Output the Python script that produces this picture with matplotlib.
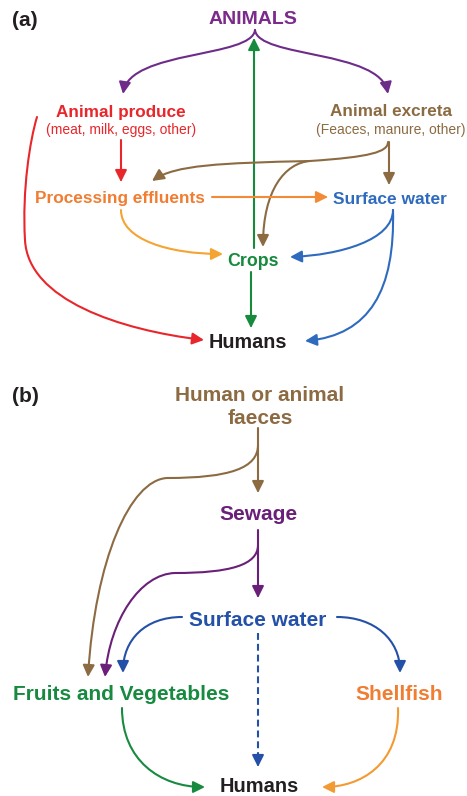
import matplotlib
matplotlib.use("Agg")
import matplotlib.pyplot as plt
from matplotlib.patches import FancyArrowPatch
from matplotlib.path import Path

plt.rcParams['font.family'] = ['Liberation Sans', 'DejaVu Sans']

# panel (a): nodes and links
a_nodes = ["ANIMALS", "Animal produce", "Animal excreta", "Processing effluents",
           "Surface water", "Crops", "Humans"]
a_notes = {"Animal produce": "(meat, milk, eggs, other)",
           "Animal excreta": "(Feaces, manure, other)"}
a_links = [("ANIMALS", "Animal produce"), ("ANIMALS", "Animal excreta"),
           ("Crops", "ANIMALS"), ("Animal produce", "Processing effluents"),
           ("Animal produce", "Humans"), ("Animal excreta", "Surface water"),
           ("Animal excreta", "Processing effluents"), ("Animal excreta", "Crops"),
           ("Processing effluents", "Surface water"), ("Processing effluents", "Crops"),
           ("Surface water", "Crops"), ("Surface water", "Humans"), ("Crops", "Humans")]

# panel (b): nodes and links
b_nodes = ["Human or animal\nfaeces", "Sewage", "Surface water",
           "Fruits and Vegetables", "Shellfish", "Humans"]
b_links = [("Human or animal\nfaeces", "Sewage"),
           ("Human or animal\nfaeces", "Fruits and Vegetables"),
           ("Sewage", "Surface water"), ("Sewage", "Fruits and Vegetables"),
           ("Surface water", "Fruits and Vegetables"), ("Surface water", "Shellfish"),
           ("Surface water", "Humans"), ("Fruits and Vegetables", "Humans"),
           ("Shellfish", "Humans")]
b_dashed = [("Surface water", "Humans")]

# ---- layout (pixel coordinates) ----
a_pos = {"ANIMALS": (253, 20), "Animal produce": (121, 112), "Animal excreta": (391, 112),
         "Processing effluents": (120, 199), "Surface water": (390, 199),
         "Crops": (253, 261), "Humans": (248, 342)}
a_size = {"ANIMALS": 14, "Humans": 14.2, "Crops": 12.8, "Surface water": 12.5,
          "Processing effluents": 12.4, "Animal produce": 12.3, "Animal excreta": 12.3}
a_col = {"ANIMALS": "#7a2b8b", "Animal produce": "#e8262b", "Animal excreta": "#8c6b43",
         "Processing effluents": "#f07d32", "Surface water": "#2e6bbf",
         "Crops": "#178a3e", "Humans": "#231f20"}
a_route = {
    ("ANIMALS", "Animal produce"): [(255, 30), (252, 58), (130, 50), (123, 94)],
    ("ANIMALS", "Animal excreta"): [(255, 30), (258, 58), (380, 50), (388, 94)],
    ("Crops", "ANIMALS"): [(254, 248), (254, 38)],
    ("Animal produce", "Processing effluents"): [(121, 140), (121, 182)],
    ("Animal produce", "Humans"): [(37, 117), (30, 140), (22, 190), (25, 240),
                                   (28, 300), (120, 330), (204, 340)],
    ("Animal excreta", "Surface water"): [(389, 142), (389, 185)],
    ("Animal excreta", "Processing effluents"): [(388, 142), (388, 152), (370, 157), (310, 161),
                                                 (220, 163), (175, 165), (152, 181)],
    ("Animal excreta", "Crops"): [(310, 161), (285, 163), (263, 190), (263, 247)],
    ("Processing effluents", "Surface water"): [(212, 197), (328, 197)],
    ("Processing effluents", "Crops"): [(121, 210), (121, 240), (170, 254), (223, 254)],
    ("Surface water", "Crops"): [(393, 210), (393, 240), (340, 255), (290, 257)],
    ("Surface water", "Humans"): [(393, 210), (395, 290), (370, 335), (305, 341)],
    ("Crops", "Humans"): [(251, 272), (251, 328)],
}
a_link_col = {("Processing effluents", "Crops"): "#f5a431",
              ("Processing effluents", "Surface water"): "#f28a36",
              ("ANIMALS", "Animal produce"): "#6e2c8a",
              ("ANIMALS", "Animal excreta"): "#6e2c8a"}

b_pos = {"Human or animal\nfaeces": (260, 407), "Sewage": (258, 515),
         "Surface water": (258, 620), "Fruits and Vegetables": (121, 694),
         "Shellfish": (399, 694), "Humans": (259, 786)}
b_size = {"Humans": 14.4}
b_col = {"Human or animal\nfaeces": "#8c6b43", "Sewage": "#6a2079", "Surface water": "#2450a8",
         "Fruits and Vegetables": "#178a40", "Shellfish": "#f07d32", "Humans": "#231f20"}
b_route = {
    ("Human or animal\nfaeces", "Sewage"): [(258, 428), (258, 493)],
    ("Human or animal\nfaeces", "Fruits and Vegetables"): [(258, 445), (258, 468), (230, 478), (167, 478),
                                                           (130, 480), (95, 560), (88, 677)],
    ("Sewage", "Surface water"): [(258, 530), (258, 598)],
    ("Sewage", "Fruits and Vegetables"): [(258, 545), (258, 565), (230, 573), (175, 573),
                                          (140, 574), (110, 620), (105, 677)],
    ("Surface water", "Fruits and Vegetables"): [(182, 617), (145, 617), (123, 640), (123, 673)],
    ("Surface water", "Shellfish"): [(337, 617), (375, 617), (400, 640), (400, 673)],
    ("Surface water", "Humans"): [(258, 633), (258, 767)],
    ("Fruits and Vegetables", "Humans"): [(122, 708), (122, 760), (160, 787), (205, 787)],
    ("Shellfish", "Humans"): [(398, 708), (400, 765), (360, 787), (322, 787)],
}
b_link_col = {("Shellfish", "Humans"): "#f39a33"}

HEAD = '-|>,head_length=0.7,head_width=0.35'


def arrow(ax, pts, color, ls='-'):
    if len(pts) == 2:
        codes = [Path.MOVETO, Path.LINETO]
    else:
        codes = [Path.MOVETO] + [Path.CURVE4] * (len(pts) - 1)
    if ls != '-':
        # dashed shaft, solid head
        (x0, y0), (x1, y1) = pts
        ax.plot([x0, x1], [y0, y1 - 8], color=color, lw=1.5, ls=(0, (3.3, 1.9)),
                solid_capstyle='butt')
        pts = [(x1, y1 - 10), (x1, y1)]
        codes = [Path.MOVETO, Path.LINETO]
    p = FancyArrowPatch(path=Path(pts, codes), arrowstyle=HEAD, mutation_scale=10,
                        color=color, lw=1.5)
    ax.add_patch(p)


fig = plt.figure(figsize=(4.67, 7.96), dpi=100)
ax = fig.add_axes([0, 0, 1, 1])
ax.set_xlim(0, 467)
ax.set_ylim(796, 0)
ax.axis('off')

# panel (a)
ax.text(12, 20, "(a)", fontsize=15, fontweight='bold', color="#231f20", ha='left', va='center')
for src, dst in a_links:
    c = a_link_col.get((src, dst), a_col[src])
    arrow(ax, a_route[(src, dst)], c)
for n in a_nodes:
    x, y = a_pos[n]
    ax.text(x, y, n, fontsize=a_size.get(n, 12), fontweight='bold', color=a_col[n],
            ha='center', va='center')
    if n in a_notes:
        ax.text(x, y + 18, a_notes[n], fontsize=10, color=a_col[n], ha='center', va='center')

# panel (b)
ax.text(12, 396, "(b)", fontsize=15, fontweight='bold', color="#231f20", ha='left', va='center')
for src, dst in b_links:
    c = b_link_col.get((src, dst), b_col[src])
    ls = '--' if (src, dst) in b_dashed else '-'
    arrow(ax, b_route[(src, dst)], c, ls)
for n in b_nodes:
    x, y = b_pos[n]
    ax.text(x, y, n, fontsize=b_size.get(n, 15), fontweight='bold', color=b_col[n],
            ha='center', va='center', linespacing=1.25)

fig.savefig("out.png", dpi=100)
